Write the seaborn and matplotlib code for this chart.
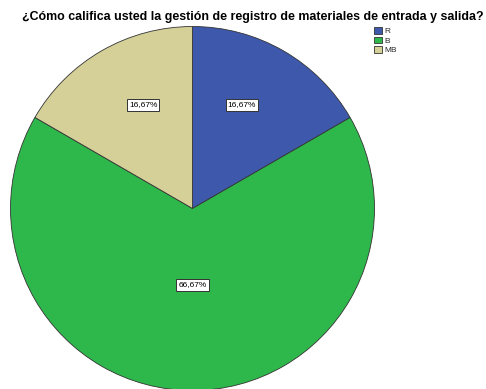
import numpy as np
import matplotlib
matplotlib.use("Agg")
import matplotlib.pyplot as plt
from matplotlib.patches import Patch
import seaborn as sns

# Response categories and their share of answers (%)
categories = ["R", "B", "MB"]
percentages = [16.67, 66.67, 16.66]
pct_labels = ["16,67%", "66,67%", "16,67%"]
colors = ["#3E58AC", "#2EB84B", "#D5CF98"]
title = "¿Cómo califica usted la gestión de registro de materiales de entrada y salida?"

sns.set_theme(style="white")
plt.rcParams["font.family"] = ["Liberation Sans", "DejaVu Sans"]

W, H = 486, 389
fig = plt.figure(figsize=(W / 100, H / 100), dpi=100)
ax = fig.add_axes([0, 0, 1, 1])

cx, cy, r = 192.5, H - 208.5, 182
wedges, _ = ax.pie(
    percentages, colors=colors, startangle=90, counterclock=False,
    center=(cx, cy), radius=r,
    wedgeprops=dict(edgecolor="#333333", linewidth=0.6),
)
ax.set_xlim(0, W)
ax.set_ylim(0, H)
ax.set_aspect("equal")
ax.axis("off")

# Percentage labels inside each wedge, pulled slightly toward the vertical
label_dist = [0.63, 0.42, 0.63]
for w, txt, d in zip(wedges, pct_labels, label_dist):
    mid = ((w.theta1 + w.theta2) / 2) % 360
    if abs(90 - mid) < 45:
        mid += 0.15 * (90 - mid)
    ang = np.deg2rad(mid)
    x = cx + d * r * np.cos(ang)
    y = cy + d * r * np.sin(ang)
    ax.text(x, y, txt, ha="center", va="center", fontsize=6, color="black",
            bbox=dict(boxstyle="square,pad=0.25", facecolor="white",
                      edgecolor="#333333", linewidth=0.7))

fig.text(252.5 / W, 1 - 17 / H, title, ha="center", va="center",
         fontsize=8.95, fontweight="bold", color="black")

handles = [Patch(facecolor=c, edgecolor="#333333", linewidth=0.6) for c in colors]
fig.legend(handles, categories, loc="upper left",
           bbox_to_anchor=(374 / W, 1 - 27 / H), frameon=False,
           fontsize=6, handlelength=0.9, handleheight=0.9,
           handletextpad=0.3, labelspacing=0.15, borderpad=0, borderaxespad=0)

fig.savefig("out.png", dpi=100)
